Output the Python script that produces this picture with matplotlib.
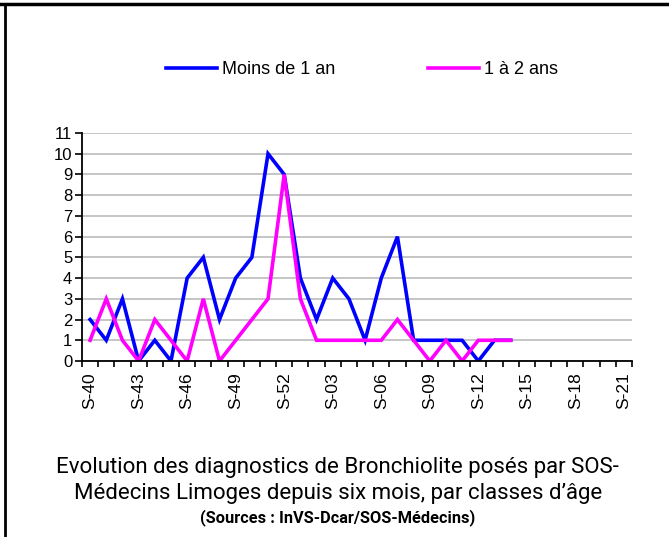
import matplotlib.pyplot as plt
import numpy as np
from matplotlib.lines import Line2D

weeks = [f"S-{w:02d}" for w in list(range(40, 53)) + list(range(1, 22))]
moins_1_an = [2, 1, 3, 0, 1, 0, 4, 5, 2, 4, 5, 10, 9, 4, 2, 4, 3, 1, 4, 6, 1, 1, 1, 1, 0, 1, 1]
un_a_2_ans = [1, 3, 1, 0, 2, 1, 0, 3, 0, 1, 2, 3, 9, 3, 1, 1, 1, 1, 1, 2, 1, 0, 1, 0, 1, 1, 1]

plt.rcParams["font.family"] = ["Liberation Sans", "DejaVu Sans"]

fig = plt.figure(figsize=(6.69, 5.37), dpi=100)
ax = fig.add_axes([82 / 669, 1 - 361 / 537, 550 / 669, 228 / 537])

x = np.arange(len(weeks))
ax.plot(x[:len(moins_1_an)], moins_1_an, color="#0000ff", lw=2.6, solid_joinstyle="miter")
ax.plot(x[:len(un_a_2_ans)], un_a_2_ans, color="#ff00ff", lw=2.6, solid_joinstyle="miter")

ax.set_xlim(-0.5, len(weeks) - 0.5)
ax.set_ylim(0, 11)
ax.set_yticks(range(12))
ax.yaxis.grid(True, color="#c0c0c0", lw=1.3)
ax.set_axisbelow(True)
for s in ("top", "right"):
    ax.spines[s].set_visible(False)
ax.spines["left"].set_linewidth(1.3)
ax.spines["bottom"].set_linewidth(1.3)

ax.set_xticks(x[::3])
ax.set_xticklabels(weeks[::3], rotation=90)
ax.set_xticks(np.arange(len(weeks) + 1) - 0.5, minor=True)
ax.tick_params(axis="x", which="major", length=0, labelsize=12.5, pad=8)
ax.tick_params(axis="x", which="minor", length=4, width=1.2, direction="out")
ax.tick_params(axis="y", length=5, width=1.2, labelsize=12, pad=2)

handles = [Line2D([], [], color="#0000ff", lw=2.6), Line2D([], [], color="#ff00ff", lw=2.6)]
fig.legend(handles, ["Moins de 1 an", "1 à 2 ans"], loc="center", bbox_to_anchor=(362 / 669, 1 - 70 / 537),
           ncol=2, frameon=False, fontsize=13, handlelength=2.83, handletextpad=0.28, columnspacing=5.1)

cap = ["Roboto", "DejaVu Sans"]
fig.text(0.505, 1 - 467 / 537, "Evolution des diagnostics de Bronchiolite posés par SOS-",
         ha="center", va="center", fontsize=16, family=cap)
fig.text(0.505, 1 - 493 / 537, "Médecins Limoges depuis six mois, par classes d\u2019âge",
         ha="center", va="center", fontsize=16, family=cap)
fig.text(0.505, 1 - 518 / 537, "(Sources : InVS-Dcar/SOS-Médecins)",
         ha="center", va="center", fontsize=11.8, family=cap, weight="bold")

# page frame lines
fig.add_artist(Line2D([0, 1], [1 - 4 / 537] * 2, color="black", lw=2.5))
fig.add_artist(Line2D([5 / 669] * 2, [0, 1 - 4 / 537], color="black", lw=2))

fig.savefig("out.png", dpi=100)
